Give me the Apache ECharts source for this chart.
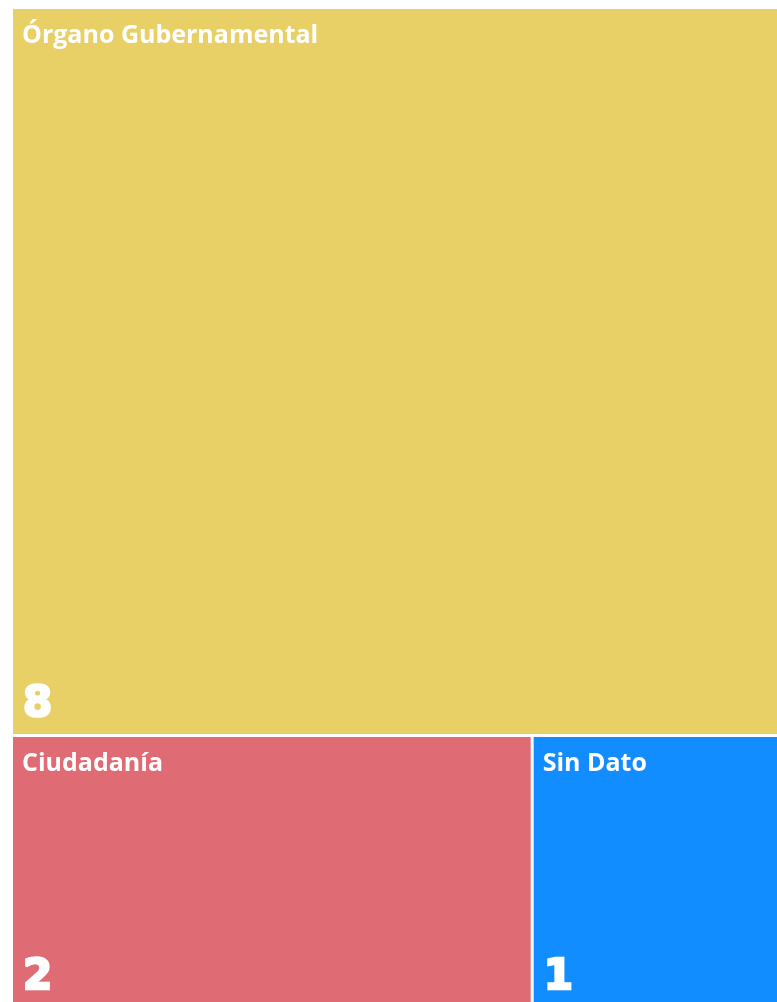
<!DOCTYPE html>
<html>
<head>
<meta charset="utf-8">
<style>
  html, body { margin: 0; padding: 0; background: #ffffff; }
  #chart { width: 777px; height: 1002px; }
</style>
<script src="https://cdn.jsdelivr.net/npm/echarts@6/dist/echarts.min.js"></script>
</head>
<body>
<div id="chart"></div>
<script>
const categories = ['Órgano Gubernamental', 'Ciudadanía', 'Sin Dato'];
const values = [8, 2, 1];
const colors = ['#E8D066', '#DF6B74', '#118DFF'];

const chart = echarts.init(document.getElementById('chart'), null, { renderer: 'canvas' });

const baseData = categories.map((c, i) => ({ name: c, value: values[i], itemStyle: { color: colors[i] } }));
const overlayData = categories.map((c, i) => ({ name: c, value: values[i], itemStyle: { color: 'rgba(0,0,0,0)' } }));

const common = {
  type: 'treemap',
  left: 13, top: 9, right: -14, bottom: -5,
  roam: false,
  nodeClick: false,
  silent: true,
  breadcrumb: { show: false },
  sort: 'desc',
  animation: false,
  emphasis: { disabled: true },
  upperLabel: { show: false }
};

chart.setOption({
  backgroundColor: '#ffffff',
  animation: false,
  series: [
    Object.assign({}, common, {
      data: baseData,
      levels: [{ itemStyle: { gapWidth: 3, borderWidth: 0, borderColor: '#ffffff' } }],
      itemStyle: { gapWidth: 3, borderWidth: 0, borderColor: '#ffffff' },
      label: {
        show: true,
        position: 'insideTopLeft',
        formatter: '{b}',
        color: '#ffffff',
        fontFamily: 'Open Sans',
        fontWeight: 'bold',
        fontSize: 25,
        lineHeight: 28,
        padding: [13, 0, 0, 9]
      }
    }),
    Object.assign({}, common, {
      data: overlayData,
      levels: [{ itemStyle: { gapWidth: 3, borderWidth: 0, borderColor: 'rgba(0,0,0,0)' } }],
      itemStyle: { gapWidth: 3, borderWidth: 0, borderColor: 'rgba(0,0,0,0)' },
      label: {
        show: true,
        position: 'insideBottomLeft',
        formatter: '{c}',
        color: '#ffffff',
        fontFamily: 'DejaVu Sans',
        fontWeight: 'bold',
        fontSize: 42,
        lineHeight: 42,
        textBorderColor: '#ffffff',
        textBorderWidth: 2.5,
        padding: [0, 0, 8, 10]
      }
    })
  ]
});
</script>
</body>
</html>
